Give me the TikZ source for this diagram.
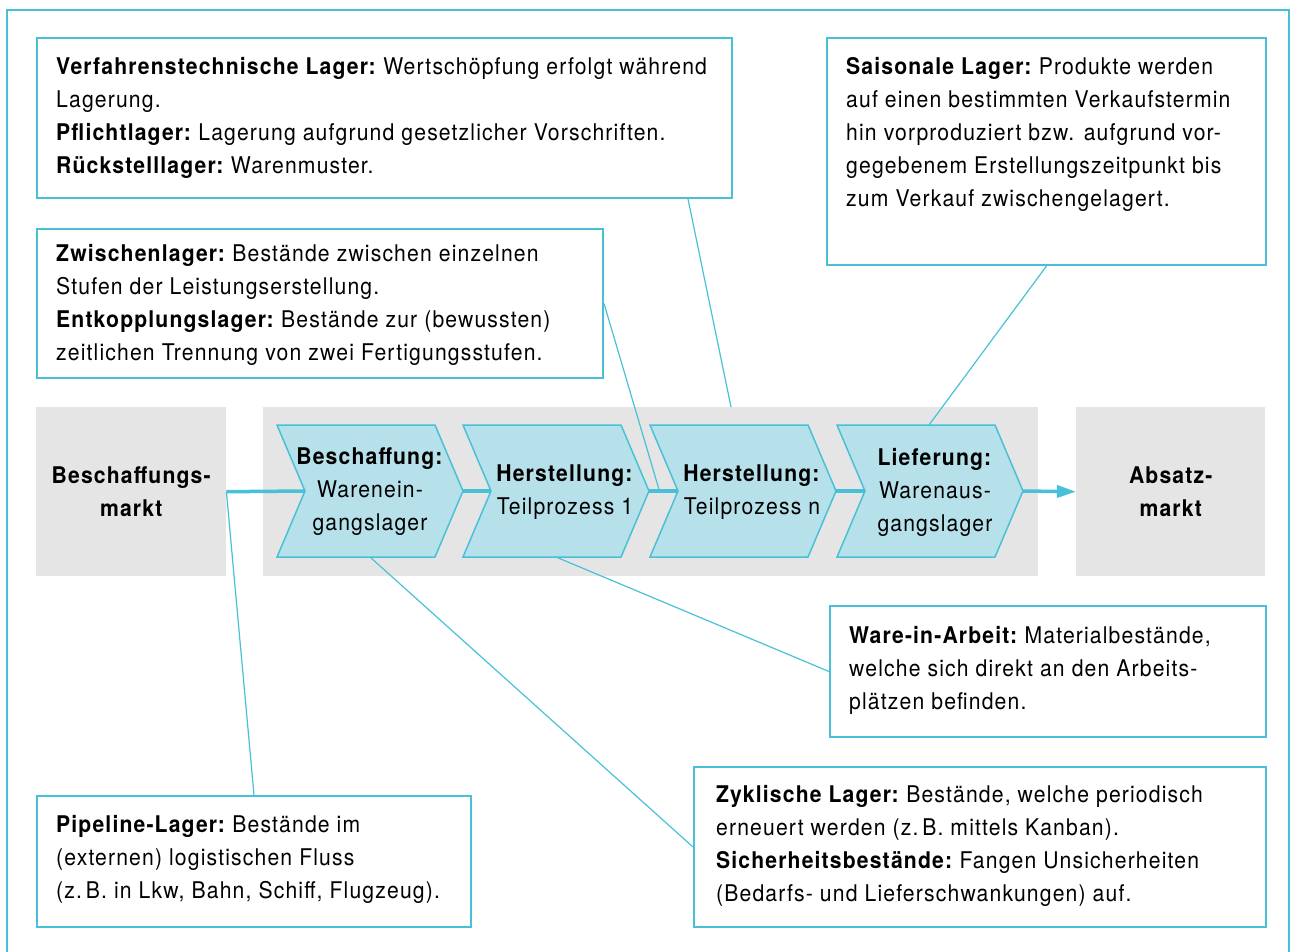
\documentclass[tikz,border=0pt]{standalone}
\usepackage{fontspec}
\setmainfont{TeX Gyre Heros}[FakeStretch=0.92, LetterSpace=5]
\usetikzlibrary{arrows.meta,calc}
\definecolor{linecyan}{HTML}{48C1D8}
\definecolor{chevfill}{HTML}{B7E1EA}
\definecolor{bandgray}{HTML}{E5E5E5}
% bold term followed by a tighter gap
\newcommand\lagerterm[1]{\textbf{#1}\kern-3pt\relax}

\begin{document}
\begin{tikzpicture}[x=1pt,y=-1pt,
  every node/.style={font=\fontsize{23}{33}\selectfont, inner sep=0pt},
  infobox/.style={draw=linecyan, line width=2pt, anchor=north west},
  body/.style={anchor=north west, align=left},
  market/.style={fill=bandgray, anchor=north west, minimum width=190pt,
    minimum height=169pt, align=center, font=\fontsize{23}{33}\selectfont\bfseries},
  chev/.style={draw=linecyan, fill=chevfill, line width=1.5pt},
  flow/.style={draw=linecyan, line width=3.5pt},
  link/.style={draw=linecyan, line width=1.2pt},
  steplabel/.style={align=center}
]
\useasboundingbox (0,0) rectangle (1293,951);

% outer frame, open at the bottom
\draw[linecyan, line width=2pt] (7,960) -- (7,10) -- (1289,10) -- (1289,960);

% description boxes
\node[infobox, minimum width=695pt, minimum height=160pt] (b1) at (36,37) {};
\node[body] (t1) at ($(b1.north west)+(20,14.6)$) {\strut\lagerterm{Verfahrenstechnische Lager:} Wertschöpfung erfolgt während\\
Lagerung.\\
\lagerterm{Pflichtlager:} Lagerung aufgrund gesetzlicher Vorschriften.\\
\lagerterm{Rückstelllager:} Warenmuster.};

\node[infobox, minimum width=566pt, minimum height=149pt] (b2) at (36,228) {};
\node[body] (t2) at ($(b2.north west)+(20,10.4)$) {\strut\lagerterm{Zwischenlager:} Bestände zwischen einzelnen\\
Stufen der Leistungserstellung.\\
\lagerterm{Entkopplungslager:} Bestände zur (bewussten)\\
zeitlichen Trennung von zwei Fertigungsstufen.};

\node[infobox, minimum width=439pt, minimum height=227pt] (b3) at (826,37) {};
\node[body] (t3) at ($(b3.north west)+(20,14.6)$) {\strut\lagerterm{Saisonale Lager:} Produkte werden\\
auf einen bestimmten Verkaufstermin\\
hin vorproduziert bzw. aufgrund vor-\\
gegebenem Erstellungszeitpunkt bis\\
zum Verkauf zwischengelagert.};

\node[infobox, minimum width=436pt, minimum height=131pt] (wa) at (829,605) {};
\node[body] (t4) at ($(wa.north west)+(20,15.4)$) {\strut\lagerterm{Ware-in-Arbeit:} Materialbestände,\\
welche sich direkt an den Arbeits-\\
plätzen befinden.};

\node[infobox, minimum width=572pt, minimum height=160pt] (zy) at (693,766) {};
\node[body] (t5) at ($(zy.north west)+(23,13.4)$) {\strut\lagerterm{Zyklische Lager:} Bestände, welche periodisch\\
erneuert werden (z.\,B. mittels Kanban).\\
\lagerterm{Sicherheitsbestände:} Fangen Unsicherheiten\\
(Bedarfs- und Lieferschwankungen) auf.};

\node[infobox, minimum width=434pt, minimum height=131pt] (pl) at (36,795) {};
\node[body] (t6) at ($(pl.north west)+(20,14.4)$) {\strut\lagerterm{Pipeline-Lager:} Bestände im\\
(externen) logistischen Fluss\\
(z.\,B. in Lkw, Bahn, Schiff, Flugzeug).};

% markets and process band
\node[market] (bm) at (36,407) {Beschaffungs-\\markt};
\node[market, minimum width=189pt] (am) at (1076,407) {Absatz-\\markt};
\node[fill=bandgray, anchor=north west, minimum width=775pt, minimum height=169pt] (band) at (263,407) {};

% process chevrons
\foreach \n/\L in {1/277,2/463,3/650,4/837}{
  \draw[chev] (\L,425) -- ++(158,0) -- ++(28,66) -- ++(-28,66) -- ++(-158,0) -- ++(28,-66) -- cycle;
  \coordinate (in\n) at (\L+28,491);
  \coordinate (out\n) at (\L+186,491);
  \coordinate (top\n) at (\L+92,425);
  \coordinate (bot\n) at (\L+93,557);
}
\node[steplabel] (s1) at (370,492) {\textbf{Beschaffung:}\\Warenein-\\gangslager};
\node[steplabel] (s2) at (565,492) {\textbf{Herstellung:}\\Teilprozess 1};
\node[steplabel] (s3) at (752,492) {\textbf{Herstellung:}\\Teilprozess n};
\node[steplabel] (s4) at (935,492) {\textbf{Lieferung:}\\Warenaus-\\gangslager};

% material flow
\draw[flow] (bm.east) -- (in1);
\draw[flow] (out1) -- (in2);
\draw[flow] (out2) -- (in3);
\draw[flow] (out3) -- (in4);
\draw[flow, -{Triangle[length=19pt,width=12pt]}] (out4) -- (am.west);

% leader lines
\draw[link] (bm.east) -- (pl.north);
\draw[link] ([xshift=-45pt]b1.south east) -- ([xshift=468pt]band.north west);
\draw[link] (b2.east) -- ($(out2)!0.36!(in3)$);
\draw[link] (b3.south) -- (top4);
\draw[link] (bot2) -- (wa.west);
\draw[link] (bot1) -- (zy.west);
\end{tikzpicture}
\end{document}
